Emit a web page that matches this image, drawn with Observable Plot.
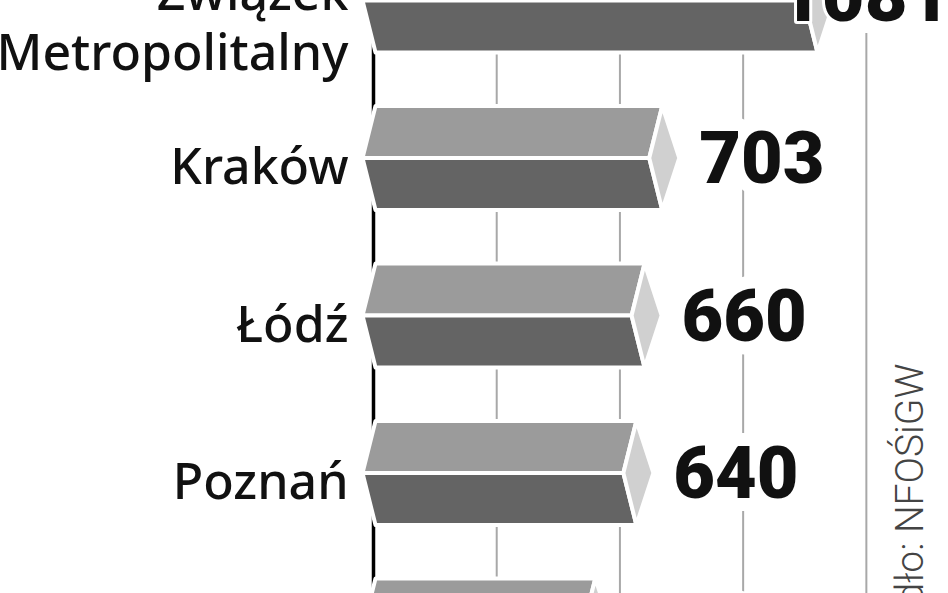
<!DOCTYPE html>
<html>
<head>
<meta charset="utf-8">
<script src="https://cdn.jsdelivr.net/npm/d3@7"></script>
<script src="https://cdn.jsdelivr.net/npm/@observablehq/plot@0.6"></script>
<style>
  html, body { margin: 0; padding: 0; background: #fff; }
  #chart { width: 948px; height: 593px; overflow: hidden; }
  #chart svg { overflow: hidden; }
</style>
</head>
<body>
<div id="chart"></div>
<script>
// ---- data ----
const categories = ["Związek Metropolitalny", "Kraków", "Łódź", "Poznań", "Wrocław"];
const values = [1081, 703, 660, 640, 540];
const gridTicks = [300, 600, 900, 1200];
const source = "Źródło: NFOŚiGW";

// ---- build tables ----
const rows = categories.map((name, i) => ({name, value: values[i], i}));

const W = 948, H = 593, ML = 373;
const xDomain = [0, 1400];
const yRange = [0, 630];
const kx = (xDomain[1] - xDomain[0]) / (W - ML);          // data units per px (x)
const ky = (categories.length - 1) / (yRange[1] - yRange[0]); // data units per px (y)
const half = 52 * ky;

const topFaces = [], bottomFaces = [], caps = [];
rows.forEach(({value: v, i}) => {
  const id = "b" + i;
  [[2 * kx, i - half], [v, i - half], [v - 13 * kx, i], [-11 * kx, i]]
    .forEach(([x, y]) => topFaces.push({id, x, y}));
  [[-11 * kx, i], [v - 13 * kx, i], [v, i + half], [2 * kx, i + half]]
    .forEach(([x, y]) => bottomFaces.push({id, x, y}));
  [[v, i - half], [v + 17 * kx, i], [v, i + half], [v - 13 * kx, i]]
    .forEach(([x, y]) => caps.push({id, x, y}));
});

const faceOpts = (fill) => ({x: "x", y: "y", z: "id", curve: "linear-closed", fill, stroke: "white", strokeWidth: 4});

const chart = Plot.plot({
  width: W,
  height: H,
  marginLeft: ML,
  marginRight: 0,
  marginTop: 0,
  marginBottom: 0,
  style: {background: "white", overflow: "hidden"},
  x: {domain: xDomain, axis: null},
  y: {domain: [0, categories.length - 1], range: yRange, axis: null},
  marks: [
    Plot.ruleX(gridTicks, {stroke: "#a8a8a8", strokeWidth: 2, insetTop: 33}),
    Plot.ruleX([0], {stroke: "#000", strokeWidth: 3.5}),
    Plot.line(topFaces, faceOpts("#9b9b9b")),
    Plot.line(bottomFaces, faceOpts("#646464")),
    Plot.line(caps, faceOpts("#d0d0d0")),
    // category labels
    Plot.text(rows.filter(d => d.i > 0), {
      x: 0, y: "i", text: "name", textAnchor: "end", dx: -25, dy: 10,
      fontSize: 50, fontWeight: 500, fontFamily: "Noto Sans", fill: "#111"
    }),
    Plot.text(rows.filter(d => d.i === 0), {
      x: 0, y: "i", text: d => d.name.replace(" ", "\n"), textAnchor: "end", dx: -25, dy: 20,
      lineHeight: 1.2, fontSize: 50, fontWeight: 500, fontFamily: "Noto Sans", fill: "#111"
    }),
    // value labels
    Plot.text(rows.filter(d => d.i > 0), {
      x: "value", y: "i", text: d => String(d.value), textAnchor: "start", dx: 37, dy: 2,
      fontSize: 72, fontWeight: 900, fontFamily: "Roboto", fill: "#111",
      stroke: "white", strokeWidth: 26, strokeLinejoin: "round"
    }),
    Plot.text(rows.filter(d => d.i === 0), {
      x: "value", y: "i", text: d => String(d.value), textAnchor: "end", dx: 133, dy: -3,
      fontSize: 74, fontWeight: 900, fontFamily: "Roboto", fill: "#111",
      stroke: "white", strokeWidth: 6, strokeLinejoin: "round"
    }),
    // source, rotated
    Plot.text([source], {
      frameAnchor: "top-right", dx: -53, dy: 363, rotate: -90, textAnchor: "end",
      fontSize: 39, fontWeight: 300, fontFamily: "Roboto", fill: "#444"
    })
  ]
});
document.getElementById("chart").appendChild(chart);
</script>
</body>
</html>
